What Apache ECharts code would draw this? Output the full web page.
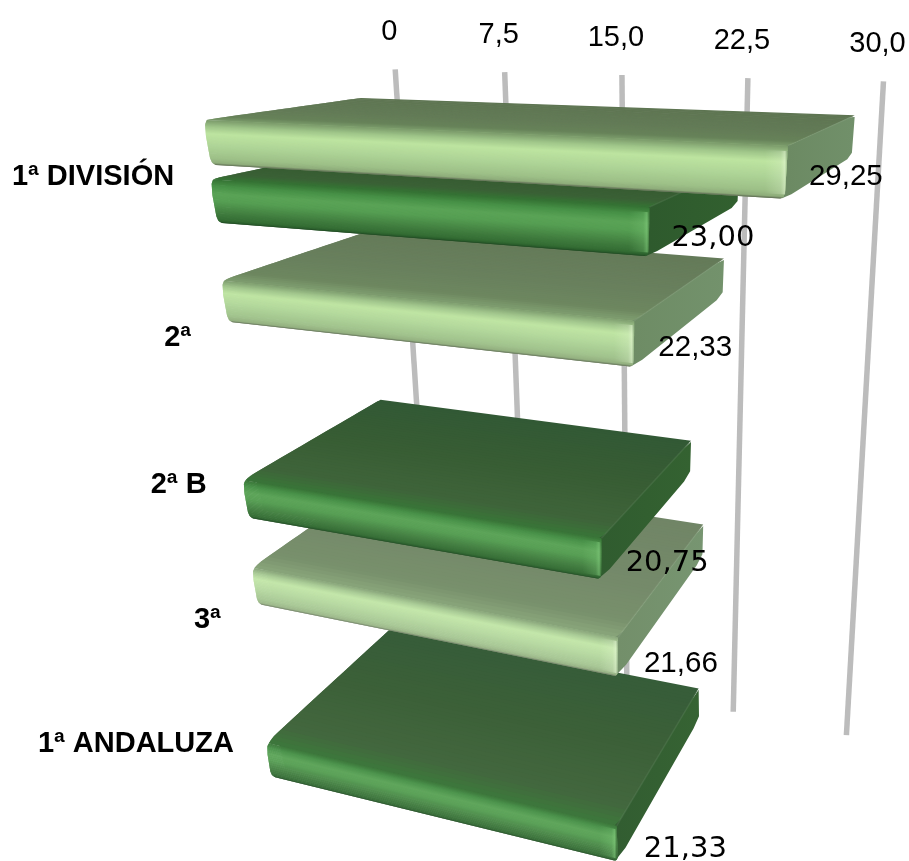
<!DOCTYPE html>
<html>
<head>
<meta charset="utf-8">
<style>html,body{margin:0;padding:0;background:#fff}#chart{width:909px;height:861px}</style>
<script src="https://cdn.jsdelivr.net/npm/echarts@6/dist/echarts.min.js"></script>
</head>
<body>
<div id="chart"></div>
<script>
// Chart values
const categories = ['1ª DIVISIÓN', '2ª', '2ª B', '3ª', '1ª ANDALUZA'];
const lightValues = [29.25, 22.33, null, 21.66, null];
const darkValues = [23.00, null, 20.75, null, 21.33];
const tickValues = [0, 7.5, 15, 22.5, 30];
const tickLabels = ['0', '7,5', '15,0', '22,5', '30,0'];

// Shading ramps: [position along the surface, colour]
const lightStyle = {
  slot: 0, font: 'Liberation Sans', fontSize: 29.5, labelShift: 1, labelRise: 0.6, labelLift: -22, labelDrop: 3, brighten: 0.038,
  top: [[0, '#5e7552'], [0.6, '#637b57'], [0.88, '#678259'], [1, '#7a9a6a']],
  front: [[0, '#7a9a6a'], [0.15, '#a0c68a'], [0.3, '#bde4a0'], [0.55, '#b0d698'], [0.85, '#9dc088'], [0.96, '#8fad7b'], [1, '#5a6650']],
  cap: ['#6c8a63', '#71906a'], shine: '#e8f8d8', edge: '#a3c98d'
};
const darkStyle = {
  slot: 0.36, font: 'DejaVu Sans', fontSize: 29, labelShift: 4, labelRise: 0.8, labelLift: -19, labelDrop: 1.5, brighten: 0.01,
  top: [[0, '#2d5530'], [0.5, '#33592f'], [0.88, '#3a6035'], [1, '#347233']],
  front: [[0, '#347233'], [0.15, '#469046'], [0.33, '#5aa356'], [0.5, '#559e52'], [0.75, '#427f40'], [0.93, '#336c33'], [0.98, '#275a29'], [1, '#1d3d1f']],
  cap: ['#2e5a2d', '#32602f'], shine: '#86d080', edge: '#3c7a3c'
};

// Camera: maps (value, row, depth) to page pixels with a perspective divide
const BAR_THICKNESS = 0.27;
function rowBow(Y) { return 1.3 * Y * (5 - Y); }
function camera(X, Y, Z) {
  const Xe = X * (1 - 0.02 * Z);
  const w = 1 - 0.0047 * Xe + 0.0392 * Y - 0.1786 * Z;
  return [(361 + 13.1 * Xe + 23.2 * Y - 190 * Z) / w, (98 + 0.05 * Xe + 147.25 * Y + 0.57 * Z) / w - rowBow(Y)];
}
// Lens correction used for the bars
function project(X, Y, Z) {
  const p = camera(X, Y, Z);
  const far = Math.max(0, Y - 3.2) / 1.16;
  p[0] += -Math.max(0, X - 22) * 1.1 - 4 * Z * Math.max(0, 1 - X / 20) + (X - 8) * 0.45 * far;
  return p;
}
// Rules stand on the back wall, behind the bars
function wall(X, Y) {
  const t = Y / 4.85;
  const p = camera(X * (1 - 0.018 * (1 - t)), Y, -0.3);
  p[0] += 6 * t;
  return p;
}

function hexRgb(h) { return [1, 3, 5].map(i => parseInt(h.substr(i, 2), 16)); }
function rampColor(ramp, t, brighten, alpha) {
  let i = 0;
  while (i < ramp.length - 2 && t > ramp[i + 1][0]) i++;
  const f = Math.min(1, (t - ramp[i][0]) / (ramp[i + 1][0] - ramp[i][0]));
  const rgb = hexRgb(ramp[i][1]).map((v, k) => v + (hexRgb(ramp[i + 1][1])[k] - v) * f);
  return 'rgba(' + rgb.map(v => Math.round(v + (255 - v) * brighten)).join(',') + ',' + (alpha === undefined ? 1 : alpha) + ')';
}
function solid(hex, brighten, alpha) { return rampColor([[0, hex], [1, hex]], 0, brighten, alpha); }
// Left and right outline of the front face, rounded at its corners
function piecewise(stops, s) {
  let i = 0;
  while (i < stops.length - 2 && s > stops[i + 1][0]) i++;
  const f = (s - stops[i][0]) / (stops[i + 1][0] - stops[i][0]);
  return stops[i][1] + (stops[i + 1][1] - stops[i][1]) * f;
}
const frontLeftInset = [[0, 0.15], [0.1, 0.03], [0.35, 0], [0.85, 0.1], [0.96, 0.2], [1, 0.4]];
const frontRightInset = [[0, 0], [0.85, 0], [0.97, 0.06], [1, 0.2]];

function barRenderer(look) {
  return function (params, api) {
    const cs = params.coordSys;
    const pos = api.coord([api.value(0), api.value(1)]);
    const X = (pos[0] - cs.x) / api.size([1, 0])[0];
    const Y = (pos[1] - cs.y) / api.size([0, 1])[1] - 0.5 + look.slot;
    const T = BAR_THICKNESS;
    const bright = look.brighten * Y;
    const kids = [];
    let order = Math.round((10 - Y) * 1000);
    const poly = (pts, fill) => kids.push({ type: 'polygon', z2: order++, silent: true, shape: { points: pts }, style: { fill: fill } });

    // Solid body underneath, so neighbouring surfaces never show a pale seam
    poly([project(0.3, Y + T * 0.1, 0.05), project(X - 0.1, Y + T * 0.1, 0.05), project(X - 0.1, Y + T * 0.85, 0.05),
      project(X - 0.2, Y + T * 0.9, 0.95), project(0.6, Y + T * 0.9, 0.95), project(0.3, Y + T * 0.1, 0.95)], solid(look.edge, bright));

    // Upper surface, from the back edge forward
    const nTop = 40;
    const topInset = z => z > 0.96 ? (z - 0.96) / 0.04 * 0.15 : 0;
    for (let k = 0; k < nTop; k++) {
      const z0 = k / nTop, z1 = Math.min(1, (k + 2) / nTop);
      poly([project(topInset(z0), Y, z0), project(X, Y, z0), project(X, Y, z1), project(topInset(z1), Y, z1)], rampColor(look.top, (k + 0.5) / nTop, bright));
    }

    // End cap, lit a little toward the back
    const capPts = [
      project(X - 0.15, Y + T * 0.02, 1),
      project(X, Y, 0.96),
      project(X, Y - T * 0.01, 0.1),
      project(X, Y + T * 0.04, 0),
      project(X, Y + T * 0.88, 0),
      project(X, Y + T * 0.97, 0.08),
      project(X, Y + T * 0.99, 0.92),
      project(X - 0.15, Y + T, 1)
    ];
    const capA = project(X, Y, 1), capB = project(X, Y, 0);
    const capBright = bright * 0.4;
    poly(capPts, {
      type: 'linear', global: true, x: capA[0], y: capA[1], x2: capB[0], y2: capA[1],
      colorStops: [{ offset: 0, color: solid(look.cap[0], capBright) }, { offset: 1, color: solid(look.cap[1], capBright) }]
    });
    kids.push({ type: 'line', z2: order++, silent: true, shape: { x1: capA[0], y1: capA[1], x2: capB[0], y2: capB[1] }, style: { stroke: 'rgba(255,255,255,0.07)', lineWidth: 1.5 } });

    // Front surface as thin bands so the shading follows the perspective
    const nFront = 60;
    for (let k = 0; k < nFront; k++) {
      const s0 = k / nFront, s1 = Math.min(1, (k + 2) / nFront);
      const y0 = Y + T * s0, y1 = Y + T * s1;
      poly([
        project(piecewise(frontLeftInset, s0), y0, 1),
        project(X - piecewise(frontRightInset, s0), y0, 1),
        project(X - piecewise(frontRightInset, s1), y1, 1),
        project(piecewise(frontLeftInset, s1), y1, 1)
      ], rampColor(look.front, (k + 0.5) / nFront, bright));
    }

    // Soft highlight on the rounded front corner
    const a = project(X - 1, Y + T * 0.1, 1), b = project(X, Y + T * 0.1, 1);
    const c = project(X, Y + T * 0.92, 1), d = project(X - 1, Y + T * 0.92, 1);
    poly([a, b, c, d], {
      type: 'linear', global: true, x: a[0], y: 0, x2: b[0], y2: 0,
      colorStops: [{ offset: 0, color: solid(look.shine, 0, 0) }, { offset: 0.7, color: solid(look.shine, 0, 0.22) }, { offset: 0.88, color: solid(look.shine, 0, 0.55) }, { offset: 1, color: solid(look.cap[1], capBright, 0.6) }]
    });

    // Value label beside the lower front corner
    const corner = project(X, Y + T, 1);
    kids.push({
      type: 'text', z2: 100000, silent: true,
      style: { text: api.value(0).toFixed(2).replace('.', ','), x: corner[0] + 60 + look.labelRise * Y + look.labelShift, y: corner[1] + look.labelLift + look.labelDrop * Y, align: 'center', verticalAlign: 'middle', font: look.fontSize + 'px "' + look.font + '"', fill: '#000' }
    });
    return { type: 'group', children: kids };
  };
}

// Back wall rules and their tick labels
function gridRenderer(params, api) {
  const cs = params.coordSys;
  const pos = api.coord([api.value(0), 0]);
  const X = (pos[0] - cs.x) / api.size([1, 0])[0];
  const top = wall(X, -0.18), bottom = wall(X, 4.83);
  return {
    type: 'group',
    children: [
      { type: 'line', silent: true, shape: { x1: top[0], y1: top[1], x2: bottom[0], y2: bottom[1] }, style: { stroke: '#bcbcbc', lineWidth: 5.5 } },
      { type: 'text', silent: true, style: { text: tickLabels[params.dataIndex], x: top[0] - 6, y: top[1] - 37, align: 'center', verticalAlign: 'middle', font: '29px "Liberation Sans"', fill: '#000' } }
    ]
  };
}

// Category names, right aligned a fixed distance left of each row
function categoryRenderer(params, api) {
  const cs = params.coordSys;
  const pos = api.coord([0, api.value(1)]);
  const Y = (pos[1] - cs.y) / api.size([0, 1])[1] - 0.5 + 0.33;
  const p = camera(0, Y, 1);
  return { type: 'text', silent: true, style: { text: categories[params.dataIndex], x: p[0] - 40, y: p[1] + rowBow(Y) + 1, align: 'right', verticalAlign: 'middle', font: 'bold 29px "Liberation Sans"', fill: '#000' } };
}

const toPairs = values => values.map((v, i) => v === null ? null : [v, i]).filter(Boolean);

const chart = echarts.init(document.getElementById('chart'), null, { renderer: 'canvas' });
chart.setOption({
  animation: false,
  backgroundColor: '#ffffff',
  grid: { left: 100, right: 100, top: 100, bottom: 100 },
  xAxis: { type: 'value', min: 0, max: 30, interval: 7.5, show: false },
  yAxis: { type: 'category', data: categories, inverse: true, show: false },
  series: [
    { type: 'custom', z: 1, clip: false, data: tickValues.map(v => [v, 0]), encode: { x: 0, y: 1 }, renderItem: gridRenderer },
    { type: 'custom', z: 2, clip: false, data: toPairs(darkValues), encode: { x: 0, y: 1 }, renderItem: barRenderer(darkStyle) },
    { type: 'custom', z: 2, clip: false, data: toPairs(lightValues), encode: { x: 0, y: 1 }, renderItem: barRenderer(lightStyle) },
    { type: 'custom', z: 3, clip: false, data: categories.map((c, i) => [0, i]), encode: { x: 0, y: 1 }, renderItem: categoryRenderer }
  ]
});
</script>
</body>
</html>
